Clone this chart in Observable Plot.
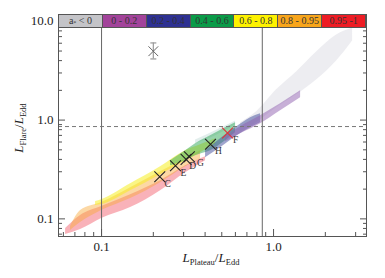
<!DOCTYPE html>
<html><head><meta charset="utf-8">
<script src="https://cdn.jsdelivr.net/npm/d3@7"></script>
<script src="https://cdn.jsdelivr.net/npm/@observablehq/plot@0.6"></script>
<style>
body{margin:0;background:#fff;}
#wrap{position:relative;width:385px;height:278px;}
#legend{position:absolute;left:58px;top:14px;width:308px;height:14px;display:flex;box-sizing:border-box;border:1px solid #555;}
#legend div{flex:1;box-sizing:border-box;border-left:1px solid #555;font-family:"Liberation Serif",serif;font-size:10px;line-height:12px;text-align:center;color:#333;white-space:nowrap;}
#legend div:first-child{border-left:none;}
#legend sub{font-size:6px;vertical-align:-1px;line-height:0;}
</style></head>
<body><div id="wrap"><div id="legend"></div></div>
<script>
// ---- legend ----
const legendLabels = ["a* < 0", "0 - 0.2", "0.2 - 0.4", "0.4 - 0.6", "0.6 - 0.8", "0.8 - 0.95", "0.95 -1"];
const legendColors = ["#c4c4c8", "#a2439a", "#2e3192", "#0a9b48", "#fef200", "#f8a51b", "#ed1c24"];

// ---- scatter cloud, drawn as bands per spin range ----
const greyX  = [0.643, 0.797, 1.041, 1.360, 1.778, 2.325, 2.880];
const greyLo = [0.762, 0.939, 1.331, 1.801, 2.553, 3.972, 6.324];
const greyHi = [0.939, 1.213, 2.023, 3.075, 4.897, 7.273, 8.555];

const redX  = [0.0618, 0.0755, 0.100, 0.1475, 0.2203, 0.3079, 0.4024];
const redLo = [0.0694, 0.0779, 0.1007, 0.1300, 0.1931, 0.2935, 0.3880];
const redHi = [0.0798, 0.1080, 0.1331, 0.1759, 0.2436, 0.3454, 0.4259];

const orangeX  = [0.0660, 0.0755, 0.100, 0.1475, 0.2203, 0.3079, 0.3763];
const orangeLo = [0.0762, 0.0918, 0.1213, 0.1604, 0.2326, 0.3375, 0.4065];
const orangeHi = [0.0836, 0.1213, 0.1461, 0.2071, 0.3004, 0.4065, 0.4896];

const yellowX  = [0.0923, 0.100, 0.1475, 0.2203, 0.3079, 0.3763, 0.4600];
const yellowLo = [0.1362, 0.1395, 0.1931, 0.2802, 0.3880, 0.4673, 0.5763];
const yellowHi = [0.1495, 0.1566, 0.2273, 0.3375, 0.4896, 0.5630, 0.6475];

const tealX  = [0.3520, 0.4600, 0.6013];
const tealLo = [0.5763, 0.6941, 0.8964];
const tealHi = [0.6300, 0.7800, 0.9800];

const greenX  = [0.2519, 0.3079, 0.3520, 0.4301, 0.5258, 0.6013];
const greenLo = [0.3454, 0.3880, 0.4359, 0.4896, 0.6180, 0.7443];
const greenHi = [0.3880, 0.4896, 0.5763, 0.6941, 0.8360, 0.9391];

const blueX  = [0.4024, 0.4918, 0.6013, 0.7350, 0.8403];
const blueLo = [0.4160, 0.5250, 0.6782, 0.8360, 0.9391];
const blueHi = [0.4896, 0.6475, 0.8360, 1.055, 1.158];

const purpleX  = [0.5258, 0.6429, 0.8403, 1.098, 1.436];
const purpleLo = [0.6036, 0.7272, 0.9176, 1.241, 1.680];
const purpleHi = [0.6782, 0.8558, 1.105, 1.461, 1.977];

// ---- marked sources ----
const markerNames = ["C", "E", "D", "G", "H", "F"];
const markerX = [0.218, 0.269, 0.310, 0.324, 0.430, 0.540];
const markerY = [0.267, 0.345, 0.400, 0.426, 0.570, 0.740];
const markerColors = ["#222", "#222", "#222", "#222", "#222", "#e0303a"];

const errX = [0.200], errY = [4.98], errLo = [4.16], errHi = [6.04];

const refX = [0.1, 0.86];
const refY = [0.86];

const xMajor = [0.1, 1];
const xMinor = [0.06, 0.07, 0.08, 0.09, 0.2, 0.3, 0.4, 0.5, 0.6, 0.7, 0.8, 0.9, 2, 3];
const yMajor = [0.1, 1, 10];
const yMinor = [0.07, 0.08, 0.09, 0.2, 0.3, 0.4, 0.5, 0.6, 0.7, 0.8, 0.9, 2, 3, 4, 5, 6, 7, 8, 9];

// ---- build ----
const rows = (xs, lo, hi) => xs.map((x, i) => ({x, lo: lo[i], hi: hi[i]}));
const bands = [
  [rows(greyX, greyLo, greyHi), "#b8b8c8", 0.25],
  [rows(redX, redLo, redHi), "#f04858", 0.42],
  [rows(orangeX, orangeLo, orangeHi), "#f8a838", 0.45],
  [rows(yellowX, yellowLo, yellowHi), "#f6ee20", 0.55],
  [rows(tealX, tealLo, tealHi), "#a0c8c0", 0.3],
  [rows(greenX, greenLo, greenHi), "#30a858", 0.5],
  [rows(blueX, blueLo, blueHi), "#404c9c", 0.5],
  [rows(purpleX, purpleLo, purpleHi), "#9060b0", 0.5]
];
const markers = markerNames.map((n, i) => ({n, x: markerX[i], y: markerY[i], c: markerColors[i]}));
const errs = errX.map((x, i) => ({x, y: errY[i], lo: errLo[i], hi: errHi[i]}));
const capSym = {draw(ctx) { ctx.moveTo(-3, 0); ctx.lineTo(3, 0); }};
const caps = errs.flatMap(d => [{x: d.x, y: d.lo}, {x: d.x, y: d.hi}]);
const labelFont = {fill: "#333", fontSize: 9.5, fontFamily: "Liberation Serif, serif"};

const ax = "#555";
const chart = Plot.plot({
  width: 385, height: 278,
  marginLeft: 58, marginRight: 19, marginTop: 14, marginBottom: 42,
  style: {fontFamily: "Liberation Serif, serif", fontSize: "13px", color: "#222", background: "#fff"},
  x: {type: "log", domain: [0.0562, 3.47], axis: null, label: null},
  y: {type: "log", domain: [0.0663, 11.72], axis: null, label: null},
  marks: [
    ...bands.map(([d, c, o]) => Plot.areaY(d, {x: "x", y1: "lo", y2: "hi", fill: c, fillOpacity: o, curve: "monotone-x"})),
    Plot.ruleX(refX, {stroke: "#666", strokeWidth: 1}),
    Plot.ruleY(refY, {stroke: "#777", strokeWidth: 1, strokeDasharray: "4,3"}),
    Plot.ruleX(errs, {x: "x", y1: "lo", y2: "hi", stroke: "#999", strokeWidth: 1.2}),
    Plot.dot(caps, {x: "x", y: "y", symbol: capSym, stroke: "#999", strokeWidth: 1.2}),
    Plot.dot(errs, {x: "x", y: "y", symbol: "times", r: 4.5, stroke: "#666", strokeWidth: 1}),
    Plot.dot(markers, {x: "x", y: "y", symbol: "times", r: 5, stroke: "c", strokeWidth: 1.1}),
    Plot.text(markers.filter(d => d.n !== "D" && d.n !== "G"), {x: "x", y: "y", text: "n", dx: 8, dy: 7, ...labelFont}),
    Plot.text(markers.filter(d => d.n === "D"), {x: "x", y: "y", text: "n", dx: 6.5, dy: 7, ...labelFont}),
    Plot.text(markers.filter(d => d.n === "G"), {x: "x", y: "y", text: "n", dx: 11, dy: 6, ...labelFont}),
    Plot.frame({stroke: ax}),
    Plot.axisY(yMajor, {anchor: "left", tickSize: 0, tickPadding: 5, tickFormat: d => d.toFixed(1), label: null, fill: "#222"}),
    Plot.axisX(xMajor, {anchor: "bottom", tickSize: 0, tickPadding: 5, tickFormat: d => d.toFixed(1), label: null, fill: "#222"}),
    Plot.axisY(yMajor, {anchor: "left", tickSize: -7, fill: "none", label: null, stroke: ax}),
    Plot.axisY(yMinor, {anchor: "left", tickSize: -4, fill: "none", label: null, stroke: ax}),
    Plot.axisY(yMajor, {anchor: "right", tickSize: -7, fill: "none", label: null, stroke: ax}),
    Plot.axisY(yMinor, {anchor: "right", tickSize: -4, fill: "none", label: null, stroke: ax}),
    Plot.axisX(xMajor, {anchor: "bottom", tickSize: -7, fill: "none", label: null, stroke: ax}),
    Plot.axisX(xMinor, {anchor: "bottom", tickSize: -4, fill: "none", label: null, stroke: ax})
  ]
});
document.getElementById("wrap").prepend(chart);

// axis titles with subscripts
const svg = d3.select(chart);
function title(g, sub1, sub2) {
  const t = g.append("text").attr("text-anchor", "middle").attr("fill", "#222")
    .style("font-family", "Liberation Serif, serif").style("font-size", "13px");
  t.append("tspan").attr("font-style", "italic").text("L");
  t.append("tspan").attr("font-size", "8.5px").attr("dy", 3).text(sub1);
  t.append("tspan").attr("dy", -3).text("/");
  t.append("tspan").attr("font-style", "italic").text("L");
  t.append("tspan").attr("font-size", "8.5px").attr("dy", 3).text(sub2);
  return t;
}
title(svg.append("g").attr("transform", "translate(211,262)"), "Plateau", "Edd");
title(svg.append("g").attr("transform", "translate(23,128) rotate(-90)"), "Flare", "Edd");

// legend
const leg = document.getElementById("legend");
legendLabels.forEach((l, i) => {
  const d = document.createElement("div");
  d.style.background = legendColors[i];
  if (i === 0) d.innerHTML = "a<sub>*</sub> &lt; 0"; else d.textContent = l;
  leg.appendChild(d);
});
</script>
</body></html>
